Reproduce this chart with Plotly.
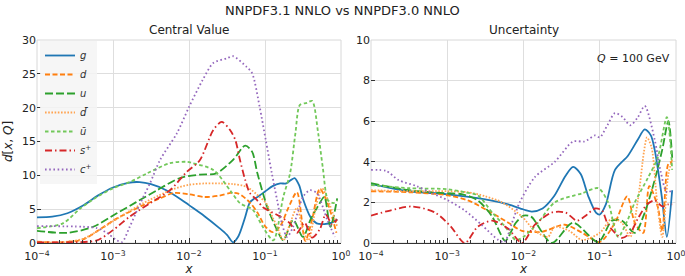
import numpy as np
import plotly.graph_objects as go

# ---------------- data (x given as log10(x)) ----------------
LABELS = ["<i>g</i>", "<i>d</i>", "<i>u</i>", "<i>d̄</i>", "<i>ū</i>", "<i>s</i><sup>+</sup>", "<i>c</i><sup>+</sup>"]

# Central value panel
g_cv_lx = [-4, -3.8, -3.6, -3.4, -3.2, -3.0, -2.8, -2.65, -2.5, -2.3, -2.1, -2.0, -1.8, -1.6, -1.5, -1.42, -1.35, -1.27, -1.2, -1.15, -1.1, -1.0, -0.9, -0.8, -0.72, -0.66, -0.61, -0.55, -0.5, -0.4, -0.32, -0.22, -0.12, -0.05]
g_cv_y = [3.8, 3.9, 4.4, 5.5, 7.0, 8.2, 8.9, 9.0, 8.7, 7.8, 6.4, 5.6, 4.0, 2.2, 1.2, 0.1, 1.0, 3.5, 6.0, 6.5, 6.8, 7.6, 8.4, 8.8, 8.8, 9.3, 9.6, 8.5, 6.5, 3.8, 2.9, 2.8, 3.0, 3.5]

d_cv_lx = [-4, -3.7, -3.4, -3.2, -3.0, -2.8, -2.6, -2.4, -2.2, -2.0, -1.8, -1.6, -1.45, -1.35, -1.2, -1.1, -1.0, -0.9, -0.8, -0.7, -0.58, -0.47, -0.38, -0.28, -0.18, -0.06]
d_cv_y = [0.2, 0.1, 0.5, 1.8, 3.3, 4.5, 5.6, 6.5, 7.4, 7.2, 6.8, 7.0, 7.4, 7.3, 6.0, 4.5, 2.5, 1.6, 2.5, 5.0, 7.5, 0.3, 3.5, 8.0, 6.0, 1.5]

u_cv_lx = [-4, -3.6, -3.26, -2.95, -2.7, -2.42, -2.12, -1.86, -1.64, -1.42, -1.26, -1.17, -1.1, -0.97, -0.84, -0.76, -0.63, -0.5, -0.4, -0.3, -0.22, -0.14, -0.05]
u_cv_y = [1.8, 1.5, 2.4, 4.4, 6.0, 7.8, 9.6, 10.1, 10.3, 12.3, 14.4, 13.5, 10.3, 5.3, 1.9, 0.4, 3.4, 0.9, 3.5, 5.5, 6.8, 2.4, 6.6]

dbar_cv_lx = [-4, -3.7, -3.4, -3.2, -3.0, -2.8, -2.6, -2.4, -2.2, -2.0, -1.8, -1.6, -1.42, -1.24, -1.07, -0.98, -0.9, -0.84, -0.76, -0.67, -0.58, -0.5, -0.43, -0.32, -0.25, -0.17, -0.05]
dbar_cv_y = [0.1, 0.1, 0.6, 1.8, 3.2, 4.6, 5.9, 7.0, 8.0, 8.6, 8.8, 8.8, 8.7, 8.3, 6.8, 5.8, 3.8, 2.4, 0.4, 2.9, 5.2, 1.9, 0.4, 5.9, 8.1, 6.3, 2.4]

ubar_cv_lx = [-4, -3.66, -3.43, -3.21, -3.0, -2.78, -2.55, -2.25, -2.03, -1.95, -1.68, -1.46, -1.33, -1.16, -1.03, -0.89, -0.76, -0.67, -0.6, -0.54, -0.45, -0.38, -0.3, -0.24, -0.17, -0.1, -0.05]
ubar_cv_y = [2.2, 2.9, 5.1, 6.8, 8.1, 9.0, 10.3, 11.8, 12.0, 11.8, 10.8, 7.8, 5.9, 4.9, 2.4, 0.4, 6.8, 10.3, 16.2, 20.4, 20.7, 21.0, 16.2, 11.2, 6.3, 5.9, 6.3]

s_cv_lx = [-4, -3.6, -3.21, -3.0, -2.78, -2.51, -2.25, -2.03, -1.86, -1.68, -1.57, -1.46, -1.39, -1.33, -1.26, -1.2, -1.11, -1.03, -0.97, -0.8, -0.67, -0.58, -0.48, -0.38, -0.28, -0.2, -0.12, -0.05]
s_cv_y = [0.1, 0.1, 0.4, 1.9, 3.9, 5.9, 7.8, 10.5, 12.2, 16.7, 17.9, 16.7, 15.2, 12.3, 9.3, 7.4, 6.4, 5.3, 4.9, 3.9, 2.9, 1.5, 3.0, 0.8, 2.0, 4.2, 2.8, 3.5]

c_cv_lx = [-4, -3.39, -3.21, -3.08, -2.95, -2.88, -2.78, -2.64, -2.51, -2.38, -2.16, -2.0, -1.82, -1.68, -1.5, -1.42, -1.24, -1.17, -1.07, -0.99, -0.91, -0.84, -0.78, -0.71, -0.63, -0.5, -0.41, -0.32, -0.18, -0.08]
c_cv_y = [2.5, 2.4, 2.2, 1.5, 0.4, 0.15, 2.4, 5.9, 8.9, 12.3, 16.2, 20.1, 24.1, 26.6, 27.3, 27.6, 26.0, 25.1, 20.1, 15.2, 10.3, 6.3, 3.0, 0.9, 2.4, 6.8, 7.8, 7.4, 3.4, 0.9]

# Uncertainty panel
g_unc_lx = [-4, -3.5, -3.0, -2.5, -2.2, -2.0, -1.89, -1.75, -1.6, -1.45, -1.35, -1.25, -1.15, -1.05, -1.0, -0.92, -0.8, -0.63, -0.5, -0.41, -0.33, -0.28, -0.22, -0.18, -0.12, -0.05]
g_unc_y = [2.9, 2.55, 2.4, 2.15, 1.9, 1.65, 1.55, 1.7, 2.3, 3.3, 3.75, 3.4, 2.3, 1.5, 1.4, 1.9, 3.6, 4.3, 5.1, 5.6, 5.3, 4.6, 3.2, 2.1, 0.3, 2.6]

d_unc_lx = [-4, -3.5, -2.99, -2.73, -2.47, -2.2, -2.02, -1.76, -1.46, -1.23, -1.0, -0.8, -0.64, -0.54, -0.43, -0.35, -0.24, -0.18, -0.1, -0.05]
d_unc_y = [2.55, 2.5, 2.35, 2.1, 1.6, 1.0, 0.6, 0.55, 0.9, 0.5, 0.05, 1.0, 2.3, 1.0, 0.5, 2.8, 1.8, 0.6, 3.9, 4.0]

u_unc_lx = [-4, -3.5, -3.0, -2.8, -2.6, -2.41, -2.32, -2.24, -2.1, -2.0, -1.9, -1.63, -1.35, -1.02, -0.84, -0.71, -0.54, -0.41, -0.28, -0.18, -0.1, -0.05]
u_unc_y = [2.95, 2.6, 2.45, 2.4, 2.1, 1.3, 0.6, 0.1, 1.0, 1.35, 1.3, 0.0, 1.0, 0.05, 1.1, 1.1, 0.5, 1.5, 3.1, 4.6, 6.0, 4.2]

dbar_unc_lx = [-4, -3.5, -3.0, -2.73, -2.5, -2.28, -2.02, -1.85, -1.68, -1.59, -1.4, -1.23, -1.0, -0.84, -0.71, -0.6, -0.5, -0.42, -0.38, -0.32, -0.25, -0.18, -0.1, -0.05]
dbar_unc_y = [2.6, 2.55, 2.55, 2.5, 2.3, 2.0, 1.3, 0.6, 0.3, 0.8, 0.6, 0.15, 0.5, 1.2, 1.0, 0.3, 2.1, 4.5, 5.2, 4.7, 2.1, 0.3, 3.4, 4.1]

ubar_unc_lx = [-4, -3.5, -3.0, -2.77, -2.6, -2.41, -2.24, -2.1, -2.0, -1.81, -1.59, -1.23, -1.02, -0.89, -0.76, -0.65, -0.54, -0.37, -0.24, -0.12, -0.05]
ubar_unc_y = [2.85, 2.7, 2.65, 2.5, 2.35, 1.5, 0.8, 0.15, 0.3, 1.0, 2.0, 2.45, 2.7, 2.0, 0.3, 1.0, 2.0, 3.2, 4.2, 6.2, 3.6]

s_unc_lx = [-4, -3.75, -3.46, -3.16, -2.95, -2.77, -2.6, -2.41, -2.2, -2.02, -1.85, -1.63, -1.45, -1.3, -1.2, -1.06, -0.97, -0.89, -0.71, -0.6, -0.5, -0.38, -0.28, -0.18, -0.1, -0.05]
s_unc_y = [1.35, 1.6, 1.8, 1.5, 0.8, 0.0, 0.8, 1.1, 0.7, 0.0, 0.9, 1.5, 1.5, 1.1, 1.3, 1.7, 1.6, 0.9, 0.25, 0.5, 1.2, 1.9, 2.1, 1.8, 1.9, 1.9]

c_unc_lx = [-4, -3.8, -3.64, -3.4, -3.2, -2.99, -2.77, -2.55, -2.33, -2.25, -2.15, -2.05, -1.85, -1.59, -1.35, -1.2, -1.06, -1.0, -0.9, -0.8, -0.7, -0.6, -0.5, -0.41, -0.28, -0.2, -0.12, -0.05]
c_unc_y = [3.6, 3.55, 3.1, 2.8, 2.45, 2.1, 1.6, 0.9, 0.15, 0.05, 1.0, 2.0, 3.25, 4.0, 5.0, 5.0, 5.3, 5.2, 5.8, 6.4, 6.2, 5.8, 6.2, 6.75, 5.1, 3.5, 2.5, 2.6]

X_TICKS_EXP = [-4, -3, -2, -1, 0]
Y_TICKS_LEFT = [0, 5, 10, 15, 20, 25, 30]
Y_TICKS_RIGHT = [0, 2, 4, 6, 8, 10]

# ---------------- styles ----------------
COLORS = ["#1f77b4", "#ff7f0e", "#2ca02c", "#ffa451", "#72c85a", "#d62728", "#9467bd"]
DASHES = ["solid", "5px,2.5px", "8px,3px", "1.6px,1.6px", "3.5px,2.5px", "7px,3px,1.5px,3px", "1.6px,2.6px"]

cv = [(g_cv_lx, g_cv_y), (d_cv_lx, d_cv_y), (u_cv_lx, u_cv_y), (dbar_cv_lx, dbar_cv_y),
      (ubar_cv_lx, ubar_cv_y), (s_cv_lx, s_cv_y), (c_cv_lx, c_cv_y)]
unc = [(g_unc_lx, g_unc_y), (d_unc_lx, d_unc_y), (u_unc_lx, u_unc_y), (dbar_unc_lx, dbar_unc_y),
       (ubar_unc_lx, ubar_unc_y), (s_unc_lx, s_unc_y), (c_unc_lx, c_unc_y)]

FONT = "DejaVu Sans"
fig = go.Figure()
for i, (lx, y) in enumerate(cv):
    fig.add_trace(go.Scatter(x=10 ** np.array(lx), y=y, mode="lines", name=LABELS[i],
                             line=dict(color=COLORS[i], dash=DASHES[i], width=1.8, shape="spline", smoothing=0.8),
                             xaxis="x", yaxis="y", showlegend=True))
for i, (lx, y) in enumerate(unc):
    fig.add_trace(go.Scatter(x=10 ** np.array(lx), y=y, mode="lines", name=LABELS[i],
                             line=dict(color=COLORS[i], dash=DASHES[i], width=1.8, shape="spline", smoothing=0.8),
                             xaxis="x2", yaxis="y2", showlegend=False))

W, H = 685, 276
L1, R1 = 37 / W, 341 / W
L2, R2 = 371 / W, 676 / W
B, T = (H - 243) / H, (H - 40) / H

minor_vals = [m * 10.0 ** e for e in range(-4, 0) for m in range(2, 10)]
xt_text = ["10<sup>−4</sup>", "10<sup>−3</sup>", "10<sup>−2</sup>", "10<sup>−1</sup>", "10<sup>0</sup>"]

def xax(dom, anchor):
    return dict(type="log", domain=dom, anchor=anchor, range=[-4, 0], automargin=False,
                ticklabeloverflow="allow", ticklabelstandoff=3,
                tickmode="array", tickvals=[10.0 ** e for e in X_TICKS_EXP], ticktext=xt_text,
                ticks="inside", ticklen=5, tickwidth=1, tickcolor="#333",
                minor=dict(tickmode="array", tickvals=minor_vals, ticks="inside", ticklen=3,
                           tickwidth=1, tickcolor="#333", showgrid=False),
                showgrid=True, gridcolor="#dedede", gridwidth=1,
                showline=True, linecolor="#333", linewidth=1, mirror=False,
                zeroline=False, tickfont=dict(size=11, color="#222", family=FONT),
                title=dict(text="<i>x</i>", font=dict(size=12, color="#222", family=FONT), standoff=2))

def yax(dom, anchor, rng, vals, title=None):
    d = dict(domain=dom, anchor=anchor, range=rng, tickmode="array", tickvals=vals, automargin=False,
             ticklabeloverflow="allow",
             ticks="inside", ticklen=4, tickwidth=1.2, tickcolor="#333",
             showgrid=True, gridcolor="#dedede", gridwidth=1, showline=False,
             zeroline=False, tickfont=dict(size=11, color="#222", family=FONT))
    if title:
        d["title"] = dict(text=title, font=dict(size=12, color="#222", family=FONT), standoff=6)
    return d

fig.update_layout(
    width=W, height=H,
    margin=dict(l=0, r=0, t=0, b=0, autoexpand=False),
    paper_bgcolor="white", plot_bgcolor="white",
    font=dict(family=FONT, color="#222"),
    xaxis=xax([L1, R1], "y"),
    yaxis=yax([B, T], "x", [0, 30], Y_TICKS_LEFT, "<i>d</i>[<i>x</i>, <i>Q</i>]"),
    xaxis2=xax([L2, R2], "y2"),
    yaxis2=yax([B, T], "x2", [0, 10], Y_TICKS_RIGHT),
    legend=dict(x=L1 + 3 / W, y=T - 1 / H, xanchor="left", yanchor="top",
                bgcolor="rgba(245,245,245,0.85)", borderwidth=0,
                font=dict(size=10, family=FONT, color="#333"), itemwidth=30,
                tracegroupgap=0),
    showlegend=True,
)

# frames around each panel
for (l, r) in [(L1, R1), (L2, R2)]:
    fig.add_shape(type="rect", xref="paper", yref="paper", x0=l, x1=r, y0=B, y1=T,
                  line=dict(color="#d8d8d8", width=1), layer="below")

fig.add_annotation(text="NNPDF3.1 NNLO vs NNPDF3.0 NNLO", xref="paper", yref="paper",
                   x=0.5, y=1 - 10 / H, xanchor="center", yanchor="middle", showarrow=False,
                   font=dict(size=13, family=FONT, color="#222"))
fig.add_annotation(text="Central Value", xref="paper", yref="paper",
                   x=(L1 + R1) / 2, y=1 - 30 / H, xanchor="center", yanchor="middle", showarrow=False,
                   font=dict(size=12, family=FONT, color="#222"))
fig.add_annotation(text="Uncertainty", xref="paper", yref="paper",
                   x=(L2 + R2) / 2, y=1 - 30 / H, xanchor="center", yanchor="middle", showarrow=False,
                   font=dict(size=12, family=FONT, color="#222"))
fig.add_annotation(text="<i>Q</i> = 100 GeV", xref="paper", yref="paper",
                   x=R2 - 4 / W, y=1 - 58 / H, xanchor="right", yanchor="middle", showarrow=False,
                   font=dict(size=11, family=FONT, color="#222"))

fig.write_html("out.html", config={"displayModeBar": False},
               post_script="document.body.style.margin='0';document.body.style.overflow='hidden';")
